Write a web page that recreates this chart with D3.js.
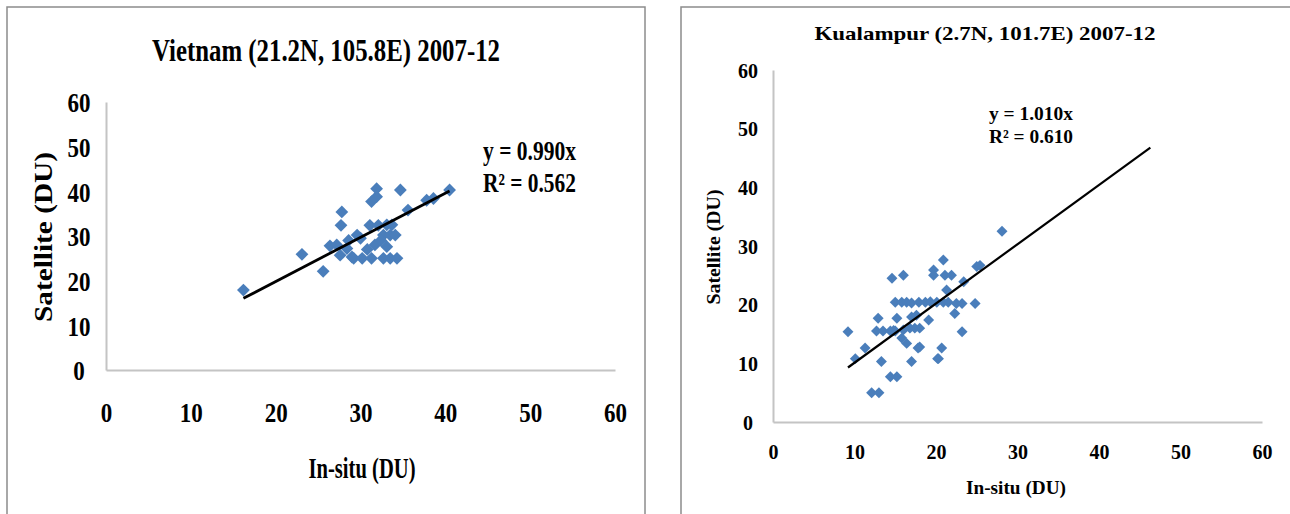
<!DOCTYPE html>
<html>
<head>
<meta charset="utf-8">
<script src="https://cdn.jsdelivr.net/npm/d3@7"></script>
<style>
  body { margin: 0; background: #fff; }
  svg { display: block; font-family: "Liberation Serif", "Times New Roman", serif; font-weight: bold; }
</style>
</head>
<body>
<div id="app"></div>
<script>
// Vietnam (21.2N, 105.8E) in-situ vs satellite
const vnX = [16.2, 23.1, 25.6, 26.4, 27.2, 27.6, 27.8, 27.7, 28.4, 29.0, 29.6, 30.0, 29.2, 30.2, 31.3, 32.7, 33.5, 34.3,
  31.1, 31.7, 31.9, 31.9, 31.3, 32.1, 33.1, 33.7, 32.7, 33.5, 34.1, 33.1, 34.7, 35.6, 37.8, 38.6, 40.5, 28.6, 30.8, 32.4];
const vnY = [17.9, 25.9, 22.1, 27.8, 28.0, 25.7, 35.4, 32.4, 27.2, 25.3, 30.2, 29.5, 25.0, 25.0, 25.0, 25.0, 25.0, 25.0,
  32.4, 28.0, 38.8, 40.6, 37.7, 32.4, 32.5, 32.5, 30.2, 30.2, 30.2, 27.6, 40.3, 35.8, 38.0, 38.4, 40.3, 29.0, 27.0, 29.0];
const vnSlope = 0.990;
const vnR2 = 0.562;

// Kualampur (2.7N, 101.7E)
const klX = [9.2, 10.1, 11.3, 12.1, 13.0, 12.9, 12.7, 13.5, 14.4, 15.0, 13.3, 14.4, 15.2, 14.6, 16.0, 15.2, 15.0, 15.8,
  16.4, 15.8, 16.4, 17.0, 17.0, 17.6, 16.8, 17.4, 18.0, 17.9, 18.7, 17.8, 19.1, 19.7, 19.7, 20.1, 20.9, 21.5, 20.7,
  20.3, 20.2, 21.1, 21.9, 20.9, 21.3, 22.5, 22.3, 23.2, 23.4, 24.8, 25.0, 25.4, 28.1, 14.8, 16.0, 17.0, 18.0, 19.3, 23.2];
const klY = [15.4, 10.8, 12.6, 5.0, 5.0, 17.7, 15.5, 15.5, 15.5, 15.5, 10.3, 7.7, 7.7, 24.5, 25.0, 17.7, 20.4, 20.4,
  20.4, 14.3, 13.4, 10.3, 17.9, 18.2, 16.0, 16.0, 16.0, 20.4, 20.4, 12.6, 17.4, 25.9, 25.0, 20.4, 20.4, 20.4, 12.6,
  10.8, 10.8, 25.0, 25.0, 27.6, 22.5, 20.2, 18.5, 15.4, 23.9, 20.2, 26.5, 26.7, 32.5, 15.6, 15.7, 20.3, 12.8, 20.5, 20.2];
const klSlope = 1.010;
const klR2 = 0.610;
const klTrendEnd = 46.3;

const ticks = [0, 10, 20, 30, 40, 50, 60];

const width = 1290, height = 514;
const svg = d3.select("#app").append("svg").attr("width", width).attr("height", height);

const panels = [
  {
    title: "Vietnam (21.2N, 105.8E) 2007-12", xs: vnX, ys: vnY, slope: vnSlope, r2: vnR2,
    trendFrom: d3.min(vnX), trendTo: d3.max(vnX),
    box: [7, 7, 638, 520], xr: [106, 615], yr: [370, 102],
    titlePos: [326, 50], titleSize: 31, titleLen: 348,
    tickSize: 28, tickLen: 23, xLabY: 412, yLabX: 79,
    xTitle: [362, 468], xTitleLen: 107, xTitleSize: 29, yTitle: [43, 237], yTitleLen: 170, yTitleSize: 25,
    eq: [483, 151, 183], eqSize: 27, eqLen: 93, marker: 82, lineW: 2.8
  },
  {
    title: "Kualampur (2.7N, 101.7E) 2007-12", xs: klX, ys: klY, slope: klSlope, r2: klR2,
    trendFrom: d3.min(klX), trendTo: klTrendEnd,
    box: [681, 7, 620, 520], xr: [773, 1262], yr: [422, 70],
    titlePos: [985, 33], titleSize: 19, titleLen: 341,
    tickSize: 20, tickLen: 20, xLabY: 452, yLabX: 748,
    xTitle: [1016, 487], xTitleLen: 100, xTitleSize: 19, yTitle: [713, 247], yTitleLen: 115, yTitleSize: 19,
    eq: [989, 113, 136], eqSize: 19, eqLen: 84, marker: 60, lineW: 2.2
  }
];

panels.forEach(p => {
  const g = svg.append("g");
  g.append("rect")
    .attr("x", p.box[0]).attr("y", p.box[1]).attr("width", p.box[2]).attr("height", p.box[3])
    .attr("fill", "#fff").attr("stroke", "#8c8c8c").attr("stroke-width", 1.5);

  const x = d3.scaleLinear().domain([0, 60]).range(p.xr);
  const y = d3.scaleLinear().domain([0, 60]).range(p.yr);

  const xAxis = g.append("g").attr("transform", `translate(0,${p.yr[0]})`)
    .call(d3.axisBottom(x).tickValues(ticks).tickSize(0).tickSizeOuter(0));
  const yAxis = g.append("g").attr("transform", `translate(${p.xr[0]},0)`)
    .call(d3.axisLeft(y).tickValues(ticks).tickSize(0).tickSizeOuter(0));

  [xAxis, yAxis].forEach(a => {
    a.select(".domain").attr("stroke", "#c4c4c4").attr("stroke-width", 2);
    a.selectAll("text")
      .attr("font-family", "Liberation Serif").attr("font-weight", "bold")
      .attr("font-size", p.tickSize).attr("fill", "#000")
      .attr("dy", "0.35em").attr("text-anchor", "middle")
      .attr("textLength", d => d >= 10 ? p.tickLen : p.tickLen / 2)
      .attr("lengthAdjust", "spacingAndGlyphs");
  });
  xAxis.selectAll("text").attr("y", p.xLabY - p.yr[0]);
  yAxis.selectAll("text").attr("x", p.yLabX - p.xr[0]);

  // title
  g.append("text").attr("x", p.titlePos[0]).attr("y", p.titlePos[1]).attr("dy", "0.35em")
    .attr("text-anchor", "middle").attr("font-size", p.titleSize)
    .attr("textLength", p.titleLen).attr("lengthAdjust", "spacingAndGlyphs")
    .text(p.title);

  g.append("text").attr("x", p.xTitle[0]).attr("y", p.xTitle[1]).attr("dy", "0.35em")
    .attr("text-anchor", "middle").attr("font-size", p.xTitleSize)
    .attr("textLength", p.xTitleLen).attr("lengthAdjust", "spacingAndGlyphs")
    .text("In-situ (DU)");

  g.append("text")
    .attr("transform", `translate(${p.yTitle[0]},${p.yTitle[1]}) rotate(-90)`)
    .attr("dy", "0.35em").attr("text-anchor", "middle").attr("font-size", p.yTitleSize)
    .attr("textLength", p.yTitleLen).attr("lengthAdjust", "spacingAndGlyphs")
    .text("Satellite (DU)");

  // points
  const sym = d3.symbol(d3.symbolSquare, p.marker);
  g.append("g").selectAll("path").data(p.xs.map((v, i) => [v, p.ys[i]])).join("path")
    .attr("d", sym)
    .attr("transform", d => `translate(${x(d[0])},${y(d[1])}) rotate(45)`)
    .attr("fill", "#4a7ebb");

  // trendline through origin
  const line = d3.line().x(d => x(d)).y(d => y(p.slope * d));
  g.append("path").attr("d", line([p.trendFrom, p.trendTo]))
    .attr("stroke", "#000").attr("stroke-width", p.lineW).attr("fill", "none");

  const eq = g.append("g").attr("font-size", p.eqSize);
  eq.append("text").attr("x", p.eq[0]).attr("y", p.eq[1]).attr("dy", "0.35em")
    .attr("textLength", p.eqLen).attr("lengthAdjust", "spacingAndGlyphs")
    .text(`y = ${p.slope.toFixed(3)}x`);
  eq.append("text").attr("x", p.eq[0]).attr("y", p.eq[2]).attr("dy", "0.35em")
    .attr("textLength", p.eqLen).attr("lengthAdjust", "spacingAndGlyphs")
    .text(`R² = ${p.r2.toFixed(3)}`);
});
</script>
</body>
</html>
